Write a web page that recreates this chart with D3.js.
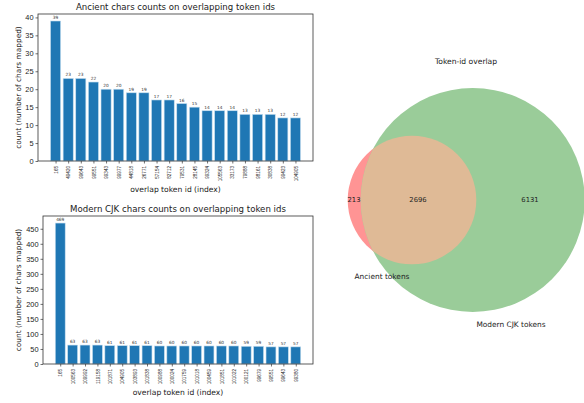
<!DOCTYPE html>
<html><head><meta charset="utf-8">
<script src="https://cdn.jsdelivr.net/npm/d3@7"></script>
<style>body{margin:0;background:#fff}svg{display:block;font-family:"DejaVu Sans",sans-serif}</style>
</head><body><svg id="c" width="584" height="403"></svg>
<script>
const ancientIds = ["165","49420","99643","99551","99343","99977","44818","26771","57154","82712","79531","28145","99324","105563","33173","79888","98161","30838","99423","104905"];
const ancientCounts = [39,23,23,22,20,20,19,19,17,17,16,15,14,14,14,13,13,13,12,12];
const modernIds = ["165","100563","109992","119158","101871","104905","103893","101838","100988","100024","101759","101018","100459","101851","101022","100121","99679","99551","99643","99380"];
const modernCounts = [469,63,63,63,61,61,61,61,60,60,60,60,60,60,60,59,59,57,57,57];
const ancientYTicks = [0,5,10,15,20,25,30,35,40];
const modernYTicks = [0,50,100,150,200,250,300,350,400,450];
const vennSets = ["Ancient tokens","Modern CJK tokens"];
const vennCounts = {onlyA:213, both:2696, onlyB:6131};

const svg = d3.select("#c");
const blue = "#1f77b4";

function barChart(ids, counts, yTicks, box, title){
  const g = svg.append("g");
  const n = ids.length;
  const x = d3.scaleLinear().domain([-0.4 - 0.05*(n-0.2), n-1+0.4 + 0.05*(n-0.2)]).range([box.l, box.r]);
  const ymax = d3.max(counts)*1.05;
  const y = d3.scaleLinear().domain([0, ymax]).range([box.b, box.t]);
  g.selectAll("rect").data(counts).join("rect")
    .attr("x",(d,i)=>x(i-0.4)).attr("width",x(0.8)-x(0))
    .attr("y",d=>y(d)).attr("height",d=>y(0)-y(d))
    .attr("fill",blue).attr("stroke","#c6dff0").attr("stroke-width",0.6);
  g.selectAll("text.val").data(counts).join("text").attr("class","val")
    .attr("x",(d,i)=>x(i)).attr("y",d=>y(d)-2).attr("text-anchor","middle")
    .attr("font-size",4.3).attr("fill","#333").text(d=>d);
  const ya = g.append("g").attr("transform",`translate(${box.l},0)`)
    .call(d3.axisLeft(y).tickValues(yTicks).tickSize(2.5).tickPadding(2));
  ya.selectAll("text").attr("font-size",7.4).attr("fill","#222");
  const xa = g.append("g").attr("transform",`translate(0,${box.b})`)
    .call(d3.axisBottom(x).tickValues(d3.range(n)).tickFormat(i=>ids[i]).tickSize(2.5));
  xa.selectAll("text").attr("font-size",4.6).attr("fill","#222")
    .attr("transform","rotate(-90)").attr("text-anchor","end")
    .attr("x",-5).attr("y",0).attr("dy","0.35em");
  [xa,ya].forEach(a=>{a.select(".domain").remove();a.selectAll("line").attr("stroke","#333").attr("stroke-width",0.7);});
  g.append("rect").attr("x",box.l).attr("y",box.t).attr("width",box.r-box.l).attr("height",box.b-box.t)
    .attr("fill","none").attr("stroke","#333").attr("stroke-width",0.8);
  g.append("text").attr("x",(box.l+box.r)/2).attr("y",box.t-4).attr("text-anchor","middle")
    .attr("font-size",8.6).attr("fill","#222").text(title);
  g.append("text").attr("transform",`translate(20.5,${(box.t+box.b)/2}) rotate(-90)`)
    .attr("text-anchor","middle").attr("font-size",7.4).attr("fill","#222").text("count (number of chars mapped)");
  g.append("text").attr("x",(box.l+box.r)/2).attr("y",box.xl).attr("text-anchor","middle")
    .attr("font-size",7.6).attr("fill","#222").text("overlap token id (index)");
}
barChart(ancientIds, ancientCounts, ancientYTicks, {l:38,r:313,t:14,b:161,xl:192}, "Ancient chars counts on overlapping token ids");
barChart(modernIds, modernCounts, modernYTicks, {l:43,r:313,t:216,b:364,xl:395}, "Modern CJK chars counts on overlapping token ids");

// Venn (area-proportional radii)
const aTotal = vennCounts.onlyA + vennCounts.both, bTotal = vennCounts.onlyB + vennCounts.both;
const r = d3.scaleSqrt().domain([0,bTotal]).range([0,112]);
const cy = 200, cxA = 412, cxB = 472.7;
const vg = svg.append("g");
vg.append("circle").attr("cx",cxA).attr("cy",cy).attr("r",r(aTotal)).attr("fill","#ff9494");
vg.append("circle").attr("cx",cxB).attr("cy",cy).attr("r",r(bTotal)).attr("fill","#9acc99");
vg.append("clipPath").attr("id","clipA").append("circle").attr("cx",cxA).attr("cy",cy).attr("r",r(aTotal));
vg.append("circle").attr("cx",cxB).attr("cy",cy).attr("r",r(bTotal)).attr("fill","#dfba96").attr("clip-path","url(#clipA)");
const lab = [[354,vennCounts.onlyA],[418,vennCounts.both],[530,vennCounts.onlyB]];
vg.selectAll("text.n").data(lab).join("text").attr("class","n").attr("x",d=>d[0]).attr("y",cy).attr("dy","0.35em")
  .attr("text-anchor","middle").attr("font-size",6.8).attr("fill","#222").text(d=>d[1]);
vg.append("text").attr("x",382).attr("y",276).attr("dy","0.35em").attr("text-anchor","middle").attr("font-size",7.4).attr("fill","#222").text(vennSets[0]);
vg.append("text").attr("x",511).attr("y",324).attr("dy","0.35em").attr("text-anchor","middle").attr("font-size",7.4).attr("fill","#222").text(vennSets[1]);
vg.append("text").attr("x",466).attr("y",61).attr("dy","0.35em").attr("text-anchor","middle").attr("font-size",7.6).attr("fill","#222").text("Token-id overlap");
</script></body></html>
